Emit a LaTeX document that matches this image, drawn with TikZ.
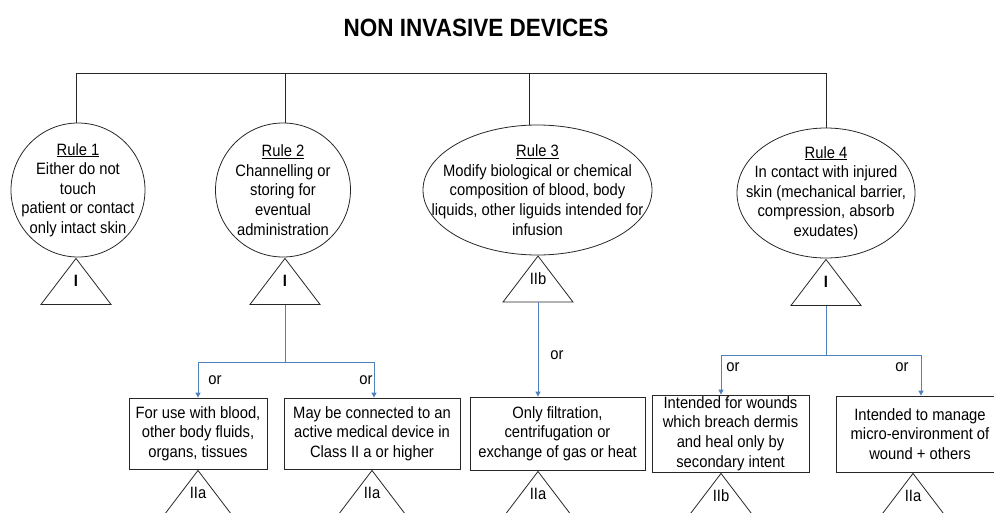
\documentclass[tikz,border=0pt]{standalone}
\usepackage{fontspec}
\setmainfont{Liberation Sans}[FakeStretch=0.9]
\usetikzlibrary{shapes.geometric,calc,arrows.meta}
\definecolor{flowblue}{RGB}{79,129,189}
\begin{document}
\begin{tikzpicture}[x=1pt,y=-1pt,
  every node/.style={font=\fontsize{16.4}{19.6}\selectfont},
  rulering/.style={ellipse, draw=black!85, line width=0.8pt, inner sep=0pt},
  ruletext/.style={align=center, inner sep=0pt},
  cls/.style={isosceles triangle, isosceles triangle stretches, shape border rotate=90,
    minimum width=70pt, minimum height=46pt, inner sep=0pt, anchor=apex,
    draw=black!85, line width=0.8pt},
  clslbl/.style={inner sep=0pt},
  crit/.style={rectangle, draw=black!85, line width=0.8pt, align=center, inner sep=0pt},
  flowline/.style={draw=flowblue, line width=1pt},
  flowarr/.style={flowline, -{Triangle[length=5pt,width=5pt]}}
]
\useasboundingbox (0,0) rectangle (994,512);
\node[font=\fontsize{25}{28}\selectfont\bfseries] (title) at (476,28) {NON INVASIVE DEVICES};
% rules
\node[rulering, minimum width=134pt, minimum height=134pt] (r1) at (78,190) {};
\node[ruletext] (r1t) at (r1) {\underline{Rule 1}\\Either do not\\touch\\patient or contact\\only intact skin};
\node[rulering, minimum width=135pt, minimum height=134pt] (r2) at (283,190) {};
\node[ruletext] (r2t) at (r2) {\underline{Rule 2}\\Channelling or\\storing for\\eventual\\administration};
\node[rulering, minimum width=229pt, minimum height=130pt] (r3) at (537.5,190) {};
\node[ruletext] (r3t) at (r3) {\underline{Rule 3}\\Modify biological or chemical\\composition of blood, body\\liquids, other liguids intended for\\infusion};
\node[rulering, minimum width=178pt, minimum height=130pt] (r4) at (826,193) {};
\node[ruletext] (r4t) at (r4) {\underline{Rule 4}\\In contact with injured\\skin (mechanical barrier,\\compression, absorb\\exudates)};
% top bar
\coordinate (bar1) at (76,73);
\coordinate (bar2) at (285,73);
\coordinate (bar3) at (529,73);
\coordinate (bar4) at (826,73);
\draw[black!85, line width=0.8pt] (bar1) -- (bar4);
\foreach \i in {1,...,4}
  \draw[black!85, line width=0.8pt] (bar\i) -- (bar\i |- r\i.north);
% classes of the rules
\node[cls] (c1) at (r1.south -| bar1) {};
\node[cls] (c2) at (r2.south -| bar2) {};
\node[cls] (c3) at (538,255) {};
\node[cls] (c4) at (r4.south) {};
\node[clslbl, font=\fontsize{16.4}{19.6}\selectfont\bfseries] (c1l) at ($(c1.apex)!0.5!(c1.lower side)$) {I};
\node[clslbl, font=\fontsize{16.4}{19.6}\selectfont\bfseries] (c2l) at ($(c2.apex)!0.5!(c2.lower side)$) {I};
\node[clslbl] (c3l) at ($(c3.apex)!0.5!(c3.lower side)$) {IIb};
\node[clslbl, font=\fontsize{16.4}{19.6}\selectfont\bfseries] (c4l) at ($(c4.apex)!0.5!(c4.lower side)$) {I};
% sub cases
\node[crit, minimum width=138pt, minimum height=71pt] (bA) at (198,433.5) {For use with blood,\\other body fluids,\\organs, tissues};
\node[crit, minimum width=176pt, minimum height=71pt] (bB) at (372,433.5) {May be connected to an\\active medical device in\\Class II a or higher};
\node[crit, minimum width=175pt, minimum height=73pt] (bC) at (557.5,433.5) {Only filtration,\\centrifugation or\\exchange of gas or heat};
\node[crit, minimum width=157pt, minimum height=77pt] (bD) at (730.5,433.5) {Intended for wounds\\which breach dermis\\and heal only by\\secondary intent};
\node[crit, minimum width=168pt, minimum height=76pt] (bE) at (920,434) {Intended to manage\\micro-environment of\\wound + others};
\node[cls] (cA) at (bA.south) {};
\node[cls] (cB) at (bB.south) {};
\node[cls] (cC) at (bC.south -| c3.apex) {};
\node[cls] (cD) at ($(bD.south)+(-9.5,0)$) {};
\node[cls] (cE) at ($(bE.south)+(-7,0)$) {};
\node[clslbl] (cAl) at ($(cA.apex)!0.5!(cA.lower side)$) {IIa};
\node[clslbl] (cBl) at ($(cB.apex)!0.5!(cB.lower side)$) {IIa};
\node[clslbl] (cCl) at ($(cC.apex)!0.5!(cC.lower side)$) {IIa};
\node[clslbl] (cDl) at ($(cD.apex)!0.5!(cD.lower side)$) {IIb};
\node[clslbl] (cEl) at ($(cE.apex)!0.5!(cE.lower side)$) {IIa};
% branches
\coordinate (j2) at ($(c2.lower side)+(0,58)$);
\coordinate (j4) at ($(c4.lower side)+(0,50)$);
\draw[flowline] (c2.lower side) -- (j2);
\draw[flowarr] (j2) -| (bA.north);
\draw[flowarr] (j2) -| ($(bB.north)+(2,0)$);
\draw[flowarr] (c3.lower side) -- (c3.lower side |- bC.north);
\draw[flowline] (c4.lower side) -- (j4);
\draw[flowarr] (j4) -| (cD.apex |- bD.north);
\draw[flowarr] (j4) -| ($(bE.north)+(1,0)$);
\node (or1) at (215,380) {or};
\node (or2) at (366,380) {or};
\node (or3) at (557,355) {or};
\node (or4) at (733,367) {or};
\node (or5) at (902,367) {or};
\end{tikzpicture}
\end{document}
